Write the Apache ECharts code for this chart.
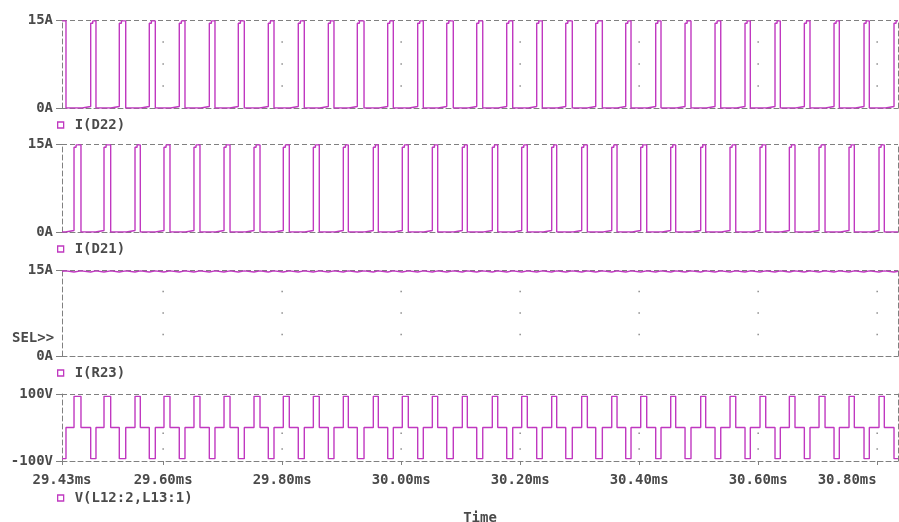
<!DOCTYPE html>
<html>
<head>
<meta charset="utf-8">
<script src="https://cdn.jsdelivr.net/npm/echarts@6/dist/echarts.min.js"></script>
<style>html,body{margin:0;padding:0;background:#fff}#c{width:899px;height:522px}</style>
</head>
<body>
<div id="c"></div>
<script>
// ---- data (time in ms) ----
const xMin = 29.43, xMax = 30.835;
const xTickLabels = [29.43, 29.60, 29.80, 30.00, 30.20, 30.40, 30.60, 30.80];
const gridDotX = [29.60, 29.80, 30.00, 30.20, 30.40, 30.60, 30.80];
const gridDotYCurrent = [3.75, 7.5, 11.25];
const gridDotYVoltage = [-17, -64];

// I(D22): first pulse already high at the left edge
const d22Fall = [29.4367, 29.4871, 29.5371, 29.5868, 29.6367, 29.6871, 29.7364, 29.7863, 29.8372, 29.8871,
  29.9376, 29.9868, 30.0372, 30.0876, 30.1371, 30.1875, 30.2372, 30.2876, 30.3381, 30.3863,
  30.4367, 30.4871, 30.5371, 30.5868, 30.6372, 30.6871, 30.7364, 30.7868];
const d22Rise = [29.4782, 29.5263, 29.5767, 29.6271, 29.6776, 29.7263, 29.7767, 29.8271, 29.8776, 29.9263,
  29.9774, 30.0278, 30.0766, 30.1270, 30.1774, 30.2278, 30.2766, 30.3270, 30.3774, 30.4278,
  30.4771, 30.5275, 30.5779, 30.6283, 30.6776, 30.7275, 30.7779, 30.8283];
// I(D21)
const d21Rise = [29.4502, 29.5006, 29.5527, 29.6014, 29.6518, 29.7023, 29.7527, 29.8019, 29.8524, 29.9028,
  29.9532, 30.0019, 30.0524, 30.1028, 30.1532, 30.2026, 30.2530, 30.3034, 30.3539, 30.4026,
  30.4530, 30.5034, 30.5527, 30.6031, 30.6524, 30.7023, 30.7527, 30.8031];
const d21Fall = [29.4619, 29.5118, 29.5616, 29.6115, 29.6619, 29.7124, 29.7628, 29.8120, 29.8624, 29.9112,
  29.9616, 30.0120, 30.0614, 30.1112, 30.1623, 30.2120, 30.2614, 30.3129, 30.3628, 30.4127,
  30.4614, 30.5118, 30.5623, 30.6127, 30.6619, 30.7124, 30.7616, 30.8120];

// pulse shape levels (A)
const preStepLead = 0.0143, preStepLevel = 0.25;
const riseLevel = 14.45, topLevel = 14.85, topStepDelay = 0.0035;
// output current ripple levels (A)
const r23Min = 14.66, r23Max = 14.84, r23Start = 14.78;
// transformer voltage level (V)
const vLevel = 93;

const yTicksCurrent = [0, 15];
const yTicksVoltage = [-100, 100];

// ---- build series ----
function pulseTrain(rises, falls, startHigh) {
  const pts = [];
  let fi = 0, high = false;
  if (startHigh) {
    pts.push([xMin, topLevel], [falls[0], topLevel], [falls[0], 0]);
    fi = 1;
  } else {
    pts.push([xMin, 0]);
  }
  for (let i = 0; i < rises.length; i++) {
    const r = rises[i];
    const f = falls[fi++];
    const p = r - preStepLead;
    if (p > xMin) pts.push([p, 0], [p, preStepLevel]);
    pts.push([r, preStepLevel], [r, riseLevel], [r + topStepDelay, riseLevel], [r + topStepDelay, topLevel]);
    if (f !== undefined) { pts.push([f, topLevel], [f, 0]); high = false; }
    else { pts.push([xMax, topLevel]); high = true; }
  }
  if (!high) pts.push([xMax, 0]);
  return pts;
}

function voltageTrace() {
  const ev = [];
  d21Rise.forEach(t => ev.push([t, vLevel]));
  d21Fall.forEach(t => ev.push([t, 0]));
  d22Rise.forEach(t => ev.push([t, -vLevel]));
  d22Fall.forEach(t => ev.push([t, 0]));
  ev.sort((a, b) => a[0] - b[0]);
  let cur = -vLevel;
  const pts = [[xMin, cur]];
  ev.forEach(e => { pts.push([e[0], cur], [e[0], e[1]]); cur = e[1]; });
  pts.push([xMax, cur]);
  return pts;
}

function rippleTrace() {
  const ev = [];
  d21Rise.concat(d22Rise).forEach(t => ev.push([t, r23Min]));
  d21Fall.concat(d22Fall).forEach(t => ev.push([t, r23Max]));
  ev.sort((a, b) => a[0] - b[0]);
  return [[xMin, r23Start]].concat(ev).concat([[xMax, r23Start]]);
}

function dots(ys) {
  const out = [];
  gridDotX.forEach(x => ys.forEach(y => out.push([x, y])));
  return out;
}

// ---- styles ----
const traceColor = '#c038c0';
const borderColor = '#808080';
const textColor = '#4a4a4a';
const font = "'DejaVu Sans Mono', 'Liberation Mono', monospace";
const dash = { color: borderColor, width: 1, type: [5, 3] };
const labelFont = { color: textColor, fontFamily: font, fontSize: 14, fontWeight: 'bold' };

const grids = [
  { left: 62, right: 1, top: 20, height: 88, outerBoundsMode: 'none', containLabel: false },
  { left: 62, right: 1, top: 144, height: 88, outerBoundsMode: 'none', containLabel: false },
  { left: 62, right: 1, top: 270, height: 86, outerBoundsMode: 'none', containLabel: false },
  { left: 62, right: 1, top: 394, height: 67, outerBoundsMode: 'none', containLabel: false }
];

const lastTick = xTickLabels[xTickLabels.length - 1];
const xAxes = grids.map((g, i) => {
  const last = i === 3;
  return {
    type: 'value', gridIndex: i, min: xMin, max: xMax,
    axisLine: { show: true, onZero: false, lineStyle: dash },
    splitLine: { show: false },
    axisTick: last ? { show: true, length: 4, customValues: xTickLabels, lineStyle: { color: borderColor } } : { show: false },
    axisLabel: last ? Object.assign({
      show: true, customValues: xTickLabels, margin: 12,
      formatter: v => Math.abs(v - lastTick) < 1e-9 ? '{r|' + v.toFixed(2) + 'ms}' : v.toFixed(2) + 'ms',
      rich: { r: Object.assign({ padding: [0, 60, 0, 0] }, labelFont) }
    }, labelFont) : { show: false },
    name: last ? 'Time' : '',
    nameLocation: 'middle', nameGap: 50,
    nameTextStyle: labelFont
  };
});

function leftY(i, ticks, unit) {
  return {
    type: 'value', gridIndex: i, min: ticks[0], max: ticks[1], interval: ticks[1] - ticks[0],
    position: 'left',
    axisLine: { show: true, onZero: false, lineStyle: dash },
    axisTick: { show: true, length: 6, lineStyle: { color: borderColor } },
    splitLine: { show: true, lineStyle: dash },
    axisLabel: Object.assign({ show: true, margin: 9, formatter: v => v + unit }, labelFont)
  };
}
function rightY(i, ticks) {
  return {
    type: 'value', gridIndex: i, min: ticks[0], max: ticks[1], interval: ticks[1] - ticks[0],
    position: 'right',
    axisLine: { show: true, onZero: false, lineStyle: dash },
    axisTick: { show: false }, splitLine: { show: false }, axisLabel: { show: false }
  };
}

const yAxes = [
  leftY(0, yTicksCurrent, 'A'), leftY(1, yTicksCurrent, 'A'), leftY(2, yTicksCurrent, 'A'), leftY(3, yTicksVoltage, 'V'),
  rightY(0, yTicksCurrent), rightY(1, yTicksCurrent), rightY(2, yTicksCurrent), rightY(3, yTicksVoltage)
];

function traceSeries(name, i, data) {
  return {
    name, type: 'line', xAxisIndex: i, yAxisIndex: i, data,
    showSymbol: false, symbol: 'none', animation: false,
    lineStyle: { color: traceColor, width: 1.4 }, itemStyle: { color: traceColor },
    emphasis: { disabled: true }
  };
}
function dotSeries(i, ys) {
  return {
    name: 'grid' + i, type: 'scatter', xAxisIndex: i, yAxisIndex: i, data: dots(ys),
    symbol: 'rect', symbolSize: 1.5, itemStyle: { color: '#707070' }, silent: true, animation: false, z: 1
  };
}

function legendAt(name, top) {
  return {
    data: [name], left: 57, top, padding: 0, selectedMode: false,
    icon: 'path://M0,0H10V10H0Z', itemWidth: 18, itemHeight: 6,
    itemStyle: { color: '#fff', borderColor: traceColor, borderWidth: 1.3 },
    textStyle: Object.assign({ lineHeight: 14 }, labelFont)
  };
}

const option = {
  backgroundColor: '#fff',
  animation: false,
  grid: grids,
  xAxis: xAxes,
  yAxis: yAxes,
  legend: [
    legendAt('I(D22)', 118),
    legendAt('I(D21)', 242),
    legendAt('I(R23)', 366),
    legendAt('V(L12:2,L13:1)', 491)
  ],
  graphic: [{
    type: 'text', left: 12, top: 331,
    style: { text: 'SEL>>', fill: textColor, font: "bold 14px 'DejaVu Sans Mono', monospace" }
  }],
  series: [
    dotSeries(0, gridDotYCurrent),
    dotSeries(2, gridDotYCurrent),
    dotSeries(3, gridDotYVoltage),
    traceSeries('I(D22)', 0, pulseTrain(d22Rise, d22Fall, true)),
    traceSeries('I(D21)', 1, pulseTrain(d21Rise, d21Fall, false)),
    traceSeries('I(R23)', 2, rippleTrace()),
    traceSeries('V(L12:2,L13:1)', 3, voltageTrace())
  ]
};

echarts.init(document.getElementById('c'), null, { renderer: 'canvas' }).setOption(option);
</script>
</body>
</html>
